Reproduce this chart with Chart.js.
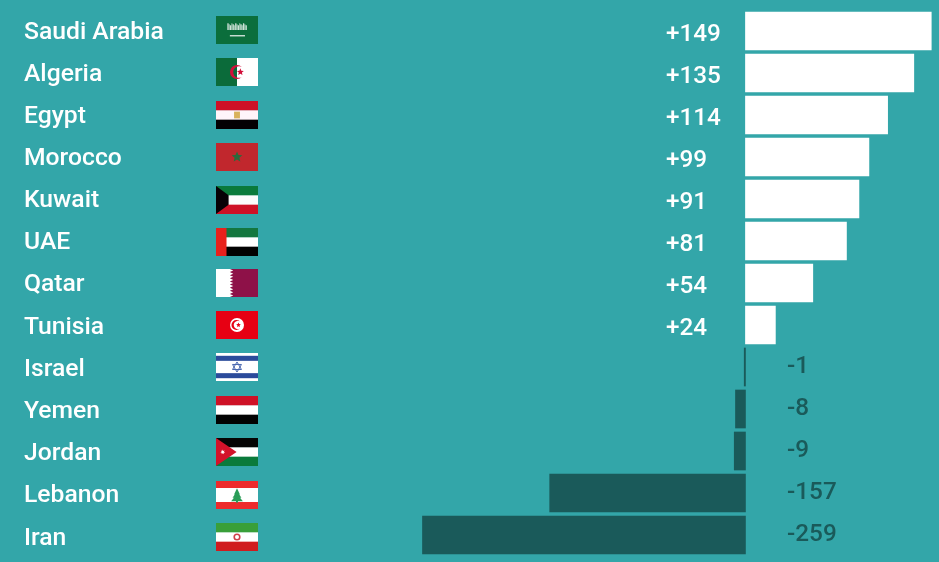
<!DOCTYPE html>
<html>
<head>
<meta charset="utf-8">
<title>Arab countries</title>
<script src="https://cdn.jsdelivr.net/npm/chart.js@4/dist/chart.umd.min.js"></script>
<style>
    html, body { margin: 0; padding: 0; background: #33a6a9; }
    #chartBox { width: 939px; height: 562px; overflow: hidden; }
</style>
</head>
<body>
<div id="chartBox"><canvas id="barChart" width="939" height="562"></canvas></div>
<script>
// ===== DATA =====
const countries = ['Saudi Arabia', 'Algeria', 'Egypt', 'Morocco', 'Kuwait', 'UAE', 'Qatar', 'Tunisia', 'Israel', 'Yemen', 'Jordan', 'Lebanon', 'Iran'];
const values = [149, 135, 114, 99, 91, 81, 54, 24, -1, -8, -9, -157, -259];

// ===== COLORS =====
const DARK = '#1a5a5a';
const WHITE = '#ffffff';

// ===== FLAG HELPERS =====
// every flag is drawn in its own box: w x h, top-left at 0,0
function hStripes(ctx, w, h, colors) {
    const s = h / colors.length;
    colors.forEach((c, i) => {
        ctx.fillStyle = c;
        ctx.fillRect(0, i * s, w, s + (i < colors.length - 1 ? 0.5 : 0));
    });
}

function star(ctx, x, y, r, color, points = 5) {
    ctx.fillStyle = color;
    ctx.beginPath();
    for (let i = 0; i < points * 2; i++) {
        const rad = i % 2 === 0 ? r : r * 0.45;
        const a = -Math.PI / 2 + i * Math.PI / points;
        ctx.lineTo(x + Math.cos(a) * rad, y + Math.sin(a) * rad);
    }
    ctx.closePath();
    ctx.fill();
}

// crescent open to the right: long way round the outer circle, back along the inner one
function crescent(ctx, x, y, r, color) {
    const a = Math.PI / 4;
    const d = r * 0.28;
    const px = r * Math.cos(a) - d;
    const py = r * Math.sin(a);
    const b = Math.atan2(py, px);
    ctx.fillStyle = color;
    ctx.beginPath();
    ctx.arc(x, y, r, a, -a);
    ctx.arc(x + d, y, Math.hypot(px, py), -b, b, true);
    ctx.closePath();
    ctx.fill();
}

const flags = {
    'Saudi Arabia': (ctx, w, h) => {
        ctx.fillStyle = '#0b6e3c';
        ctx.fillRect(0, 0, w, h);
        // script band, rough speckle
        for (let x = 0; x < 15; x++) {
            ctx.fillStyle = x % 2 === 0 ? 'rgba(255,255,255,0.8)' : 'rgba(255,255,255,0.5)';
            ctx.fillRect(w * 0.27 + x * 1.3, h * 0.26 + (x % 3), 1.3, h * 0.24 - (x % 3));
        }
        ctx.fillStyle = 'rgba(255,255,255,0.8)';
        ctx.fillRect(w * 0.33, h * 0.68, w * 0.36, 1.4);
    },
    'Algeria': (ctx, w, h) => {
        ctx.fillStyle = '#0b6b3a';
        ctx.fillRect(0, 0, w / 2, h);
        ctx.fillStyle = WHITE;
        ctx.fillRect(w / 2, 0, w / 2, h);
        crescent(ctx, w * 0.5, h / 2, h * 0.25, '#d2103a');
        star(ctx, w * 0.58, h / 2, h * 0.13, '#d2103a');
    },
    'Egypt': (ctx, w, h) => {
        hStripes(ctx, w, h, ['#ce1126', '#fff5fa', '#040104']);
        ctx.fillStyle = '#d9b25c';
        ctx.fillRect(w * 0.43, h * 0.38, w * 0.14, h * 0.24);
    },
    'Morocco': (ctx, w, h) => {
        ctx.fillStyle = '#c1272d';
        ctx.fillRect(0, 0, w, h);
        star(ctx, w / 2, h / 2, h * 0.2, '#2b6a3c');
    },
    'Kuwait': (ctx, w, h) => {
        hStripes(ctx, w, h, ['#0a7a3b', '#fbfbfb', '#ce1126']);
        ctx.fillStyle = '#070106';
        ctx.beginPath();
        ctx.moveTo(0, 0);
        ctx.lineTo(w * 0.3, h / 3);
        ctx.lineTo(w * 0.3, h * 2 / 3);
        ctx.lineTo(0, h);
        ctx.closePath();
        ctx.fill();
    },
    'UAE': (ctx, w, h) => {
        hStripes(ctx, w, h, ['#13773f', '#ffffff', '#020202']);
        ctx.fillStyle = '#e8211c';
        ctx.fillRect(0, 0, w * 0.25, h);
    },
    'Qatar': (ctx, w, h) => {
        ctx.fillStyle = '#8e1148';
        ctx.fillRect(0, 0, w, h);
        ctx.fillStyle = WHITE;
        ctx.beginPath();
        ctx.moveTo(0, 0);
        ctx.lineTo(w * 0.33, 0);
        const teeth = 9;
        const s = h / teeth;
        for (let i = 0; i < teeth; i++) {
            ctx.lineTo(w * 0.41, (i + 0.5) * s);
            ctx.lineTo(w * 0.33, (i + 1) * s);
        }
        ctx.lineTo(0, h);
        ctx.closePath();
        ctx.fill();
    },
    'Tunisia': (ctx, w, h) => {
        ctx.fillStyle = '#e70013';
        ctx.fillRect(0, 0, w, h);
        ctx.fillStyle = WHITE;
        ctx.beginPath();
        ctx.arc(w / 2, h / 2, h * 0.25, 0, Math.PI * 2);
        ctx.fill();
        crescent(ctx, w / 2 - 0.5, h / 2, h * 0.18, '#e70013');
        star(ctx, w / 2 + 1.5, h / 2, h * 0.09, '#e70013');
    },
    'Israel': (ctx, w, h) => {
        ctx.fillStyle = WHITE;
        ctx.fillRect(0, 0, w, h);
        ctx.fillStyle = '#2b4b9b';
        ctx.fillRect(0, h * 0.1, w, h * 0.18);
        ctx.fillRect(0, h * 0.72, w, h * 0.18);
        ctx.strokeStyle = '#4a68b0';
        ctx.lineWidth = 1;
        [-1, 1].forEach(dir => {
            ctx.beginPath();
            ctx.moveTo(w / 2, h / 2 - dir * h * 0.18);
            ctx.lineTo(w / 2 + h * 0.16, h / 2 + dir * h * 0.09);
            ctx.lineTo(w / 2 - h * 0.16, h / 2 + dir * h * 0.09);
            ctx.closePath();
            ctx.stroke();
        });
    },
    'Yemen': (ctx, w, h) => {
        hStripes(ctx, w, h, ['#ce1126', '#ffffff', '#020202']);
    },
    'Jordan': (ctx, w, h) => {
        hStripes(ctx, w, h, ['#050505', '#ffffff', '#0a7a3b']);
        ctx.fillStyle = '#d3122a';
        ctx.beginPath();
        ctx.moveTo(0, 0);
        ctx.lineTo(w * 0.49, h / 2);
        ctx.lineTo(0, h);
        ctx.closePath();
        ctx.fill();
        star(ctx, w * 0.16, h / 2, h * 0.09, WHITE, 7);
    },
    'Lebanon': (ctx, w, h) => {
        hStripes(ctx, w, h, ['#ee2b2c', '#ffffff', '#ffffff', '#ee2b2c']);
        ctx.fillStyle = '#2a9d58';
        [[0.26, 0.48, 0.1], [0.36, 0.6, 0.15], [0.46, 0.72, 0.2]].forEach(([top, bottom, half]) => {
            ctx.beginPath();
            ctx.moveTo(w / 2, h * top);
            ctx.lineTo(w * (0.5 + half * 0.7), h * bottom);
            ctx.lineTo(w * (0.5 - half * 0.7), h * bottom);
            ctx.closePath();
            ctx.fill();
        });
        ctx.fillRect(w / 2 - 1, h * 0.7, 2, h * 0.07);
    },
    'Iran': (ctx, w, h) => {
        hStripes(ctx, w, h, ['#399f39', '#ffffff', '#d01c1f']);
        ctx.strokeStyle = '#d0404a';
        ctx.lineWidth = 1.6;
        ctx.beginPath();
        ctx.arc(w / 2, h / 2, h * 0.1, 0, Math.PI * 2);
        ctx.stroke();
    }
};

// small vertical shifts seen in the picture, flags are not exactly on the row grid
const flagShift = { 'Saudi Arabia': -1, 'Algeria': -1, 'Kuwait': 1, 'UAE': 1, 'Yemen': 1, 'Jordan': 1, 'Lebanon': 2, 'Iran': 2 };

// ===== LABELS AND FLAGS PLUGIN =====
const rowDecorations = {
    id: 'rowDecorations',
    afterDatasetsDraw(chart) {
        const { ctx, scales: { y } } = chart;
        const flagW = 42;
        const flagH = 28;

        ctx.save();
        ctx.textBaseline = 'middle';
        countries.forEach((name, i) => {
            const cy = y.getPixelForValue(i);
            const val = values[i];

            // country name, drifts down slightly towards the bottom of the list
            const nameShift = i < 7 ? 2 : (i < 12 ? 3 : 4);
            ctx.font = '500 24.7px Roboto';
            ctx.fillStyle = WHITE;
            ctx.textAlign = 'left';
            ctx.fillText(name, 24, cy + nameShift);

            // flag
            ctx.save();
            ctx.translate(216, Math.round(cy - flagH / 2) + (flagShift[name] || 0));
            flags[name](ctx, flagW, flagH);
            ctx.restore();

            // value
            ctx.font = '500 24.3px Roboto';
            if (val > 0) {
                ctx.fillStyle = WHITE;
                ctx.fillText('+' + val, 666, cy + 3.5);
            } else {
                ctx.fillStyle = DARK;
                ctx.fillText(String(val), 787, cy);
            }
        });
        ctx.restore();
    }
};

// ===== CHART =====
function initBarChart() {
    const canvas = document.getElementById('barChart');
    new Chart(canvas, {
        type: 'bar',
        data: {
            labels: countries,
            datasets: [{
                data: values,
                backgroundColor: values.map(v => v > 0 ? WHITE : DARK),
                borderWidth: 0,
                barThickness: 38
            }]
        },
        options: {
            indexAxis: 'y',
            responsive: false,
            animation: false,
            layout: { padding: { top: 10, bottom: 6, left: 0, right: 0 } },
            plugins: {
                legend: { display: false },
                tooltip: { enabled: false }
            },
            scales: {
                x: { display: false, min: -597.8, max: 155.2 },
                y: { display: false }
            }
        },
        plugins: [rowDecorations]
    });
}

document.addEventListener('DOMContentLoaded', initBarChart);
</script>
</body>
</html>
